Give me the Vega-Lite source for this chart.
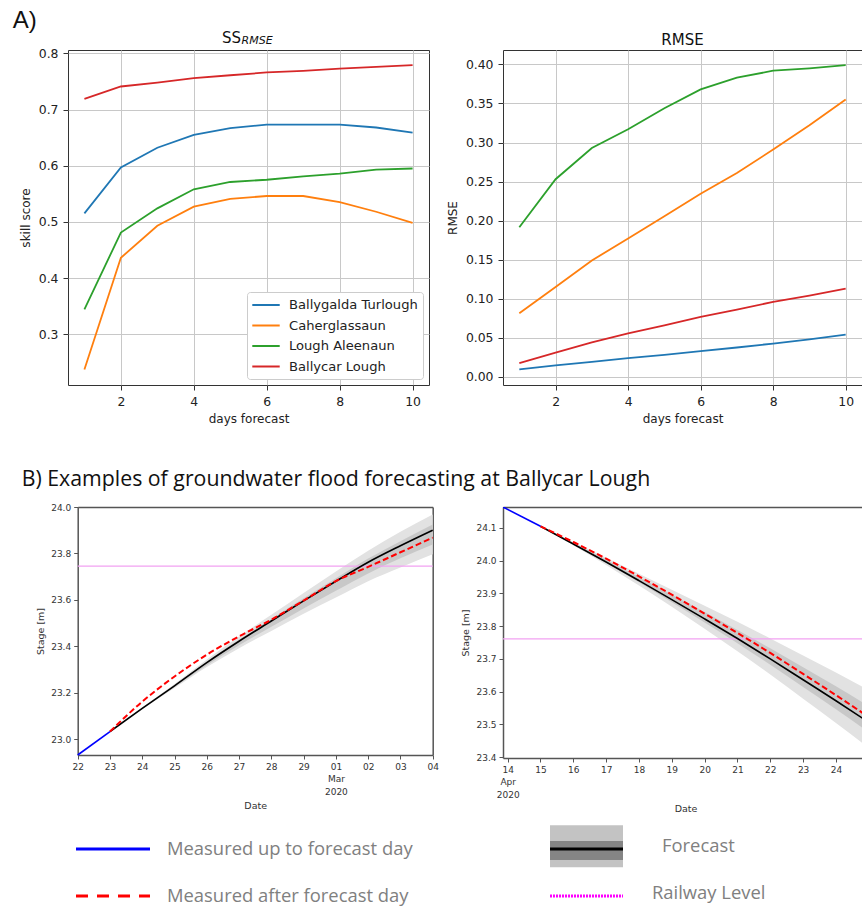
{
 "$schema": "https://vega.github.io/schema/vega-lite/v6.json",
 "background": "white",
 "padding": {"left": 12, "top": 9, "right": 0, "bottom": 0},
 "title": {"text": "A)", "anchor": "start", "fontSize": 24, "font": "Liberation Sans", "fontWeight": "normal", "dx": -6, "offset": -3, "color": "#111"},
 "datasets": {
  "skill": [
   {"day":1,"site":"Ballygalda Turlough","ss":0.515,"rmse":0.0094},
   {"day":2,"site":"Ballygalda Turlough","ss":0.597,"rmse":0.0145},
   {"day":3,"site":"Ballygalda Turlough","ss":0.632,"rmse":0.019},
   {"day":4,"site":"Ballygalda Turlough","ss":0.655,"rmse":0.0239},
   {"day":5,"site":"Ballygalda Turlough","ss":0.667,"rmse":0.028},
   {"day":6,"site":"Ballygalda Turlough","ss":0.673,"rmse":0.0328},
   {"day":7,"site":"Ballygalda Turlough","ss":0.673,"rmse":0.0375},
   {"day":8,"site":"Ballygalda Turlough","ss":0.673,"rmse":0.0426},
   {"day":9,"site":"Ballygalda Turlough","ss":0.668,"rmse":0.048},
   {"day":10,"site":"Ballygalda Turlough","ss":0.659,"rmse":0.054},
   {"day":1,"site":"Caherglassaun","ss":0.237,"rmse":0.0815},
   {"day":2,"site":"Caherglassaun","ss":0.436,"rmse":0.115},
   {"day":3,"site":"Caherglassaun","ss":0.493,"rmse":0.149},
   {"day":4,"site":"Caherglassaun","ss":0.527,"rmse":0.177},
   {"day":5,"site":"Caherglassaun","ss":0.541,"rmse":0.2055},
   {"day":6,"site":"Caherglassaun","ss":0.546,"rmse":0.2345},
   {"day":7,"site":"Caherglassaun","ss":0.546,"rmse":0.261},
   {"day":8,"site":"Caherglassaun","ss":0.535,"rmse":0.291},
   {"day":9,"site":"Caherglassaun","ss":0.518,"rmse":0.322},
   {"day":10,"site":"Caherglassaun","ss":0.498,"rmse":0.355},
   {"day":1,"site":"Lough Aleenaun","ss":0.344,"rmse":0.1915},
   {"day":2,"site":"Lough Aleenaun","ss":0.481,"rmse":0.253},
   {"day":3,"site":"Lough Aleenaun","ss":0.524,"rmse":0.293},
   {"day":4,"site":"Lough Aleenaun","ss":0.558,"rmse":0.317},
   {"day":5,"site":"Lough Aleenaun","ss":0.571,"rmse":0.344},
   {"day":6,"site":"Lough Aleenaun","ss":0.575,"rmse":0.368},
   {"day":7,"site":"Lough Aleenaun","ss":0.581,"rmse":0.383},
   {"day":8,"site":"Lough Aleenaun","ss":0.586,"rmse":0.392},
   {"day":9,"site":"Lough Aleenaun","ss":0.593,"rmse":0.395},
   {"day":10,"site":"Lough Aleenaun","ss":0.595,"rmse":0.399},
   {"day":1,"site":"Ballycar Lough","ss":0.719,"rmse":0.0175},
   {"day":2,"site":"Ballycar Lough","ss":0.741,"rmse":0.031},
   {"day":3,"site":"Ballycar Lough","ss":0.748,"rmse":0.044},
   {"day":4,"site":"Ballycar Lough","ss":0.756,"rmse":0.0555},
   {"day":5,"site":"Ballycar Lough","ss":0.761,"rmse":0.066},
   {"day":6,"site":"Ballycar Lough","ss":0.766,"rmse":0.0768},
   {"day":7,"site":"Ballycar Lough","ss":0.769,"rmse":0.086},
   {"day":8,"site":"Ballycar Lough","ss":0.773,"rmse":0.096},
   {"day":9,"site":"Ballycar Lough","ss":0.776,"rmse":0.104},
   {"day":10,"site":"Ballycar Lough","ss":0.779,"rmse":0.113}
  ],
  "ss_title": [{"main": "SS", "sub": "RMSE"}],
  "feb_meas": [
   {"date":"2020-02-22T00:00:00","stage":22.932,"kind":"before"},
   {"date":"2020-02-23T00:00:00","stage":23.033,"kind":"before"},
   {"date":"2020-02-23T00:00:00","stage":23.033,"kind":"after"},
   {"date":"2020-02-24T00:00:00","stage":23.162,"kind":"after"},
   {"date":"2020-02-25T00:00:00","stage":23.270,"kind":"after"},
   {"date":"2020-02-26T00:00:00","stage":23.364,"kind":"after"},
   {"date":"2020-02-27T00:00:00","stage":23.443,"kind":"after"},
   {"date":"2020-02-28T00:00:00","stage":23.515,"kind":"after"},
   {"date":"2020-02-29T00:00:00","stage":23.597,"kind":"after"},
   {"date":"2020-03-01T00:00:00","stage":23.681,"kind":"after"},
   {"date":"2020-03-02T00:00:00","stage":23.742,"kind":"after"},
   {"date":"2020-03-03T00:00:00","stage":23.805,"kind":"after"},
   {"date":"2020-03-04T00:00:00","stage":23.868,"kind":"after"}
  ],
  "feb_fc": [
   {"date":"2020-02-23T00:00:00","median":23.033,"lo_o":23.033,"hi_o":23.033,"lo_i":23.033,"hi_i":23.033},
   {"date":"2020-02-24T00:00:00","median":23.133,"lo_o":23.129,"hi_o":23.137,"lo_i":23.131,"hi_i":23.135},
   {"date":"2020-02-25T00:00:00","median":23.230,"lo_o":23.220,"hi_o":23.238,"lo_i":23.225,"hi_i":23.233},
   {"date":"2020-02-26T00:00:00","median":23.330,"lo_o":23.311,"hi_o":23.343,"lo_i":23.319,"hi_i":23.335},
   {"date":"2020-02-27T00:00:00","median":23.422,"lo_o":23.392,"hi_o":23.442,"lo_i":23.405,"hi_i":23.429},
   {"date":"2020-02-28T00:00:00","median":23.509,"lo_o":23.466,"hi_o":23.536,"lo_i":23.484,"hi_i":23.518},
   {"date":"2020-02-29T00:00:00","median":23.596,"lo_o":23.540,"hi_o":23.630,"lo_i":23.563,"hi_i":23.607},
   {"date":"2020-03-01T00:00:00","median":23.680,"lo_o":23.610,"hi_o":23.722,"lo_i":23.639,"hi_i":23.693},
   {"date":"2020-03-02T00:00:00","median":23.762,"lo_o":23.680,"hi_o":23.812,"lo_i":23.714,"hi_i":23.778},
   {"date":"2020-03-03T00:00:00","median":23.833,"lo_o":23.739,"hi_o":23.893,"lo_i":23.779,"hi_i":23.853},
   {"date":"2020-03-04T00:00:00","median":23.900,"lo_o":23.796,"hi_o":23.968,"lo_i":23.839,"hi_i":23.925}
  ],
  "feb_rail": [{"level": 23.745}],
  "apr_meas": [
   {"date":"2020-04-13T20:35:00","stage":24.164,"kind":"before"},
   {"date":"2020-04-15T00:00:00","stage":24.105,"kind":"before"},
   {"date":"2020-04-15T00:00:00","stage":24.105,"kind":"after"},
   {"date":"2020-04-16T00:00:00","stage":24.057,"kind":"after"},
   {"date":"2020-04-17T00:00:00","stage":24.006,"kind":"after"},
   {"date":"2020-04-18T00:00:00","stage":23.952,"kind":"after"},
   {"date":"2020-04-19T00:00:00","stage":23.896,"kind":"after"},
   {"date":"2020-04-20T00:00:00","stage":23.838,"kind":"after"},
   {"date":"2020-04-21T00:00:00","stage":23.779,"kind":"after"},
   {"date":"2020-04-22T00:00:00","stage":23.718,"kind":"after"},
   {"date":"2020-04-23T00:00:00","stage":23.654,"kind":"after"},
   {"date":"2020-04-24T00:00:00","stage":23.589,"kind":"after"},
   {"date":"2020-04-25T00:00:00","stage":23.522,"kind":"after"}
  ],
  "apr_fc": [
   {"date":"2020-04-15T00:00:00","median":24.105,"lo_o":24.105,"hi_o":24.105,"lo_i":24.105,"hi_i":24.105},
   {"date":"2020-04-16T00:00:00","median":24.051,"lo_o":24.047,"hi_o":24.057,"lo_i":24.050,"hi_i":24.054},
   {"date":"2020-04-17T00:00:00","median":23.996,"lo_o":23.987,"hi_o":24.009,"lo_i":23.993,"hi_i":24.003},
   {"date":"2020-04-18T00:00:00","median":23.939,"lo_o":23.924,"hi_o":23.960,"lo_i":23.934,"hi_i":23.950},
   {"date":"2020-04-19T00:00:00","median":23.881,"lo_o":23.859,"hi_o":23.911,"lo_i":23.873,"hi_i":23.897},
   {"date":"2020-04-20T00:00:00","median":23.822,"lo_o":23.792,"hi_o":23.862,"lo_i":23.811,"hi_i":23.843},
   {"date":"2020-04-21T00:00:00","median":23.762,"lo_o":23.723,"hi_o":23.813,"lo_i":23.748,"hi_i":23.788},
   {"date":"2020-04-22T00:00:00","median":23.700,"lo_o":23.652,"hi_o":23.762,"lo_i":23.682,"hi_i":23.732},
   {"date":"2020-04-23T00:00:00","median":23.636,"lo_o":23.578,"hi_o":23.710,"lo_i":23.614,"hi_i":23.674},
   {"date":"2020-04-24T00:00:00","median":23.572,"lo_o":23.504,"hi_o":23.658,"lo_i":23.546,"hi_i":23.616},
   {"date":"2020-04-25T00:00:00","median":23.506,"lo_o":23.428,"hi_o":23.604,"lo_i":23.476,"hi_i":23.556}
  ],
  "apr_rail": [{"level": 23.761}],
  "legend": [
   {"label":"Measured up to forecast day","col":"left","row":"top"},
   {"label":"Measured after forecast day","col":"left","row":"bottom"},
   {"label":"Forecast","col":"right","row":"top"},
   {"label":"Railway Level","col":"right","row":"bottom"}
  ]
 },
 "concat": [
  {
   "hconcat": [
    {
     "width": 361, "height": 335,
     "layer": [
      {
       "data": {"name": "skill"},
       "mark": {"type": "line", "strokeWidth": 1.8},
       "encoding": {
        "x": {"field": "day", "type": "quantitative", "scale": {"domain": [0.55, 10.45], "nice": false, "zero": false}, "axis": {"values": [2,4,6,8,10], "title": "days forecast", "grid": true}},
        "y": {"field": "ss", "type": "quantitative", "scale": {"domain": [0.2095, 0.806], "nice": false, "zero": false}, "axis": {"values": [0.3,0.4,0.5,0.6,0.7,0.8], "format": ".1f", "title": "skill score", "grid": true}},
        "color": {"field": "site", "type": "nominal",
         "scale": {"domain": ["Ballygalda Turlough","Caherglassaun","Lough Aleenaun","Ballycar Lough"], "range": ["#1f77b4","#ff7f0e","#2ca02c","#d62728"]},
         "legend": {"title": null, "orient": "bottom-right", "offset": 6, "symbolType": "M-2,0L2,0", "symbolSize": 188, "symbolStrokeWidth": 2, "symbolOffset": 6, "labelOffset": 15, "labelFontSize": 13.1, "labelFont": "DejaVu Sans", "labelColor": "#222", "rowPadding": 4.5, "padding": 5, "strokeColor": "#cccccc", "fillColor": "white", "cornerRadius": 3}}
       }
      },
      {
       "data": {"name": "ss_title"},
       "mark": {"type": "text", "fontSize": 15, "align": "center", "baseline": "alphabetic", "font": "DejaVu Sans", "color": "#111"},
       "encoding": {"x": {"datum": 5.036, "type": "quantitative"}, "y": {"datum": 0.8185, "type": "quantitative"}, "text": {"field": "main"}}
      },
      {
       "data": {"name": "ss_title"},
       "mark": {"type": "text", "fontStyle": "italic", "fontSize": 11, "align": "left", "baseline": "alphabetic", "font": "DejaVu Sans", "color": "#111"},
       "encoding": {"x": {"datum": 5.31, "type": "quantitative"}, "y": {"datum": 0.8158, "type": "quantitative"}, "text": {"field": "sub"}}
      }
     ]
    },
    {
     "width": 359, "height": 335,
     "title": {"text": "RMSE", "fontSize": 15, "offset": 2},
     "data": {"name": "skill"},
     "mark": {"type": "line", "strokeWidth": 1.8},
     "encoding": {
      "x": {"field": "day", "type": "quantitative", "scale": {"domain": [0.55, 10.45], "nice": false, "zero": false}, "axis": {"values": [2,4,6,8,10], "title": "days forecast", "grid": true}},
      "y": {"field": "rmse", "type": "quantitative", "scale": {"domain": [-0.0105, 0.4185], "nice": false, "zero": false}, "axis": {"values": [0,0.05,0.1,0.15,0.2,0.25,0.3,0.35,0.4], "format": ".2f", "title": "RMSE", "grid": true}},
      "color": {"field": "site", "type": "nominal",
       "scale": {"domain": ["Ballygalda Turlough","Caherglassaun","Lough Aleenaun","Ballycar Lough"], "range": ["#1f77b4","#ff7f0e","#2ca02c","#d62728"]},
       "legend": null}
     }
    }
   ],
   "spacing": 15,
   "resolve": {"scale": {"color": "independent"}}
  },
  {
   "title": {"text": "B) Examples of groundwater flood forecasting at Ballycar Lough", "anchor": "start", "font": "Open Sans", "fontSize": 21.3, "fontWeight": "normal", "dx": -14, "offset": 13, "color": "#111"},
   "vconcat": [
    {
     "hconcat": [
      {
       "width": 364.7, "height": 248,
       "view": {"stroke": null},
       "resolve": {"axis": {"x": "independent", "y": "independent"}},
       "layer": [
        {
         "data": {"name": "feb_fc"},
         "mark": {"type": "area", "color": "#e2e2e2", "opacity": 1, "interpolate": "monotone"},
         "encoding": {
          "x": {"field": "date", "type": "temporal",
           "scale": {"domain": [{"year": 2020, "month": 2, "date": 22}, {"year": 2020, "month": 3, "date": 4}], "range": [9.7, 364.7]},
           "axis": {"title": "Date", "tickCount": {"interval": "day", "step": 1}, "labelExpr": "date(datum.value) == 1 ? [timeFormat(datum.value, '%d'), timeFormat(datum.value, '%b'), timeFormat(datum.value, '%Y')] : timeFormat(datum.value, '%d')", "labelFlush": false, "labelOverlap": false, "grid": false, "labelFontSize": 9, "titleFontSize": 9.5, "tickSize": 4, "labelPadding": 3, "titlePadding": 4, "labelLineHeight": 12.5, "tickColor": "#555", "labelColor": "#333", "titleColor": "#333", "domain": true, "domainColor": "#555", "domainWidth": 1.5}},
          "y": {"field": "lo_o", "type": "quantitative", "scale": {"domain": [22.932, 24.0], "nice": false, "zero": false},
           "axis": {"title": "Stage [m]", "offset": -9.7, "values": [23.0,23.2,23.4,23.6,23.8,24.0], "format": ".1f", "grid": false, "labelFontSize": 9, "titleFontSize": 9.5, "tickSize": 4, "labelPadding": 3, "titlePadding": 5, "tickColor": "#555", "labelColor": "#333", "titleColor": "#333", "domain": true, "domainColor": "#555", "domainWidth": 1.5}},
          "y2": {"field": "hi_o"}
         }
        },
        {
         "data": {"name": "feb_fc"},
         "mark": {"type": "area", "color": "#c8c8c8", "opacity": 1, "interpolate": "monotone"},
         "encoding": {"x": {"field": "date", "type": "temporal", "axis": null}, "y": {"field": "lo_i", "type": "quantitative", "axis": null}, "y2": {"field": "hi_i"}}
        },
        {
         "data": {"name": "feb_rail"},
         "mark": {"type": "rule", "color": "#f2a2f2", "strokeWidth": 1.3},
         "encoding": {
          "x": {"datum": {"year": 2020, "month": 2, "date": 22}, "type": "temporal", "axis": null},
          "x2": {"datum": {"year": 2020, "month": 3, "date": 4}},
          "y": {"field": "level", "type": "quantitative", "axis": {"orient": "right", "labels": false, "ticks": false, "title": null, "grid": false, "domain": true, "domainColor": "#555", "domainWidth": 1.5}}
         }
        },
        {
         "data": {"name": "feb_fc"},
         "mark": {"type": "line", "color": "#000000", "strokeWidth": 1.6, "interpolate": "monotone"},
         "encoding": {"x": {"field": "date", "type": "temporal", "axis": {"orient": "top", "labels": false, "ticks": false, "title": null, "grid": false, "domain": true, "domainColor": "#555", "domainWidth": 1.5}}, "y": {"field": "median", "type": "quantitative", "axis": null}}
        },
        {
         "data": {"name": "feb_meas"},
         "transform": [{"filter": "datum.kind == 'after'"}],
         "mark": {"type": "line", "color": "#ff0000", "strokeWidth": 2, "strokeDash": [6, 3], "interpolate": "monotone"},
         "encoding": {"x": {"field": "date", "type": "temporal", "axis": null}, "y": {"field": "stage", "type": "quantitative", "axis": null}}
        },
        {
         "data": {"name": "feb_meas"},
         "transform": [{"filter": "datum.kind == 'before'"}],
         "mark": {"type": "line", "color": "#0000ff", "strokeWidth": 1.6},
         "encoding": {"x": {"field": "date", "type": "temporal", "axis": null}, "y": {"field": "stage", "type": "quantitative", "axis": null}}
        }
       ]
      },
      {
       "width": 365, "height": 251,
       "view": {"stroke": null},
       "resolve": {"axis": {"x": "independent", "y": "independent"}},
       "layer": [
        {
         "data": {"name": "apr_fc"},
         "mark": {"type": "area", "color": "#e2e2e2", "opacity": 1, "interpolate": "monotone", "clip": true},
         "encoding": {
          "x": {"field": "date", "type": "temporal",
           "scale": {"domain": [{"year": 2020, "month": 4, "date": 13, "hours": 20, "minutes": 35}, {"year": 2020, "month": 4, "date": 24, "hours": 23, "minutes": 27}]},
           "axis": {"title": "Date", "tickCount": {"interval": "day", "step": 1}, "labelExpr": "date(datum.value) == 14 ? [timeFormat(datum.value, '%d'), timeFormat(datum.value, '%b'), timeFormat(datum.value, '%Y')] : timeFormat(datum.value, '%d')", "labelFlush": false, "labelOverlap": false, "grid": false, "labelFontSize": 9, "titleFontSize": 9.5, "tickSize": 4, "labelPadding": 3, "titlePadding": 4, "labelLineHeight": 12.5, "tickColor": "#555", "labelColor": "#333", "titleColor": "#333", "domain": true, "domainColor": "#555", "domainWidth": 1.5}},
          "y": {"field": "lo_o", "type": "quantitative", "scale": {"domain": [23.397, 24.164], "nice": false, "zero": false},
           "axis": {"title": "Stage [m]", "values": [23.4,23.5,23.6,23.7,23.8,23.9,24.0,24.1], "format": ".1f", "grid": false, "labelFontSize": 9, "titleFontSize": 9.5, "tickSize": 4, "labelPadding": 3, "titlePadding": 5, "tickColor": "#555", "labelColor": "#333", "titleColor": "#333", "domain": true, "domainColor": "#555", "domainWidth": 1.5}},
          "y2": {"field": "hi_o"}
         }
        },
        {
         "data": {"name": "apr_fc"},
         "mark": {"type": "area", "color": "#c8c8c8", "opacity": 1, "interpolate": "monotone", "clip": true},
         "encoding": {"x": {"field": "date", "type": "temporal", "axis": null}, "y": {"field": "lo_i", "type": "quantitative", "axis": null}, "y2": {"field": "hi_i"}}
        },
        {
         "data": {"name": "apr_rail"},
         "mark": {"type": "rule", "color": "#f2a2f2", "strokeWidth": 1.3},
         "encoding": {"y": {"field": "level", "type": "quantitative", "axis": null}}
        },
        {
         "data": {"name": "apr_fc"},
         "mark": {"type": "line", "color": "#000000", "strokeWidth": 1.6, "interpolate": "monotone", "clip": true},
         "encoding": {"x": {"field": "date", "type": "temporal", "axis": {"orient": "top", "labels": false, "ticks": false, "title": null, "grid": false, "domain": true, "domainColor": "#555", "domainWidth": 1.5}}, "y": {"field": "median", "type": "quantitative", "axis": null}}
        },
        {
         "data": {"name": "apr_meas"},
         "transform": [{"filter": "datum.kind == 'after'"}],
         "mark": {"type": "line", "color": "#ff0000", "strokeWidth": 2, "strokeDash": [6, 3], "interpolate": "monotone", "clip": true},
         "encoding": {"x": {"field": "date", "type": "temporal", "axis": null}, "y": {"field": "stage", "type": "quantitative", "axis": null}}
        },
        {
         "data": {"name": "apr_meas"},
         "transform": [{"filter": "datum.kind == 'before'"}],
         "mark": {"type": "line", "color": "#0000ff", "strokeWidth": 1.6, "clip": true},
         "encoding": {"x": {"field": "date", "type": "temporal", "axis": null}, "y": {"field": "stage", "type": "quantitative", "axis": null}}
        }
       ]
      }
     ],
     "spacing": 21
    },
    {
     "width": 740, "height": 84,
     "view": {"stroke": null},
     "data": {"name": "legend"},
     "encoding": {
      "x": {"field": "col", "type": "nominal", "scale": {"type": "point", "domain": ["left", "right"], "range": [45, 518.5], "padding": 0}, "axis": null},
      "y": {"field": "row", "type": "nominal", "scale": {"type": "point", "domain": ["top", "bottom"], "range": [31, 78], "padding": 0}, "axis": null}
     },
     "layer": [
      {"transform": [{"filter": "datum.label == 'Forecast'"}], "mark": {"type": "point", "shape": "M-1,-0.65L1,-0.65L1,0.5L-1,0.5Z", "filled": true, "fill": "#c3c3c3", "size": 5329, "opacity": 1, "strokeWidth": 0}},
      {"transform": [{"filter": "datum.label == 'Forecast'"}], "mark": {"type": "point", "shape": "M-1,-0.22L1,-0.22L1,0.3L-1,0.3Z", "filled": true, "fill": "#858585", "size": 5329, "opacity": 1, "strokeWidth": 0}},
      {"transform": [{"filter": "datum.label == 'Forecast'"}], "mark": {"type": "point", "shape": "M-1,0L1,0", "filled": false, "stroke": "#000000", "strokeWidth": 3, "size": 5329, "opacity": 1}},
      {"transform": [{"filter": "datum.label == 'Measured up to forecast day'"}], "mark": {"type": "point", "shape": "M-1,0L1,0", "filled": false, "stroke": "#0000ff", "strokeWidth": 3, "size": 5476, "opacity": 1}},
      {"transform": [{"filter": "datum.label == 'Measured after forecast day'"}], "mark": {"type": "point", "shape": "M-1,0L1,0", "filled": false, "stroke": "#ff0000", "strokeWidth": 3, "strokeDash": [12, 9], "size": 5476, "opacity": 1}},
      {"transform": [{"filter": "datum.label == 'Railway Level'"}], "mark": {"type": "point", "shape": "M-1,0L1,0", "filled": false, "stroke": "#ff00ff", "strokeWidth": 3, "strokeDash": [2, 1], "size": 5329, "opacity": 1}},
      {"transform": [{"filter": "datum.col == 'left'"}], "mark": {"type": "text", "align": "left", "baseline": "middle", "dx": 54, "font": "Open Sans", "fontSize": 18.4, "color": "#808080"}, "encoding": {"text": {"field": "label"}}},
      {"transform": [{"filter": "datum.label == 'Forecast'"}], "mark": {"type": "text", "align": "left", "baseline": "middle", "dx": 75.5, "dy": -3, "font": "Open Sans", "fontSize": 18.4, "color": "#808080"}, "encoding": {"text": {"field": "label"}}},
      {"transform": [{"filter": "datum.label == 'Railway Level'"}], "mark": {"type": "text", "align": "left", "baseline": "middle", "dx": 65.5, "dy": -3, "font": "Open Sans", "fontSize": 18.4, "color": "#808080"}, "encoding": {"text": {"field": "label"}}}
     ]
    }
   ],
   "spacing": 5
  }
 ],
 "columns": 1,
 "spacing": 43,
 "config": {
  "font": "DejaVu Sans",
  "view": {"stroke": "#333", "strokeWidth": 1},
  "axis": {"labelFontSize": 12.4, "titleFontSize": 12, "titleFontWeight": "normal", "tickSize": 5, "labelPadding": 5, "titlePadding": 6, "domain": false, "gridColor": "#c8c8c8", "gridWidth": 1, "tickColor": "#333", "labelColor": "#222", "titleColor": "#222", "labelFont": "DejaVu Sans", "titleFont": "DejaVu Sans"},
  "title": {"fontWeight": "normal", "font": "DejaVu Sans", "color": "#111"}
 }
}
